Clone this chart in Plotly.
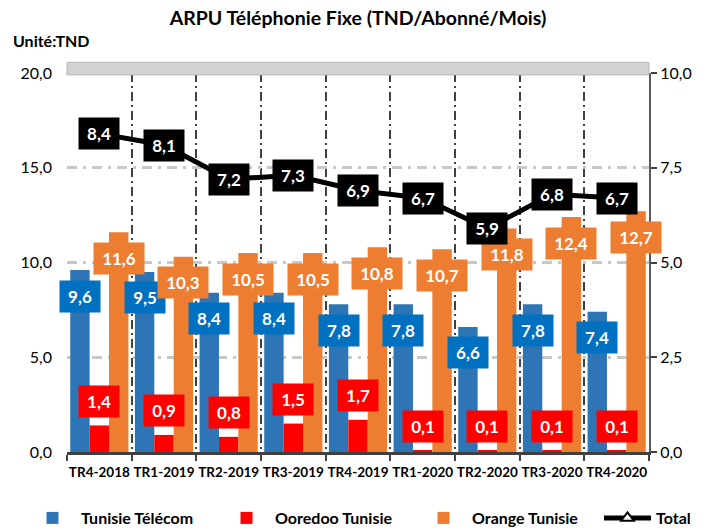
import plotly.graph_objects as go

categories = ["TR4-2018", "TR1-2019", "TR2-2019", "TR3-2019", "TR4-2019",
              "TR1-2020", "TR2-2020", "TR3-2020", "TR4-2020"]
tunisie_telecom = [9.6, 9.5, 8.4, 8.4, 7.8, 7.8, 6.6, 7.8, 7.4]
ooredoo = [1.4, 0.9, 0.8, 1.5, 1.7, 0.1, 0.1, 0.1, 0.1]
orange = [11.6, 10.3, 10.5, 10.5, 10.8, 10.7, 11.8, 12.4, 12.7]
total = [8.4, 8.1, 7.2, 7.3, 6.9, 6.7, 5.9, 6.8, 6.7]

FONT = "Lato"
C_BLUE_BAR = "#2E75B6"
C_BLUE_LBL = "#0070C0"
C_RED = "#FF0000"
C_ORANGE = "#ED7D31"

x = list(range(len(categories)))
BAR_W = 0.3
PLOT_L, PLOT_W, PLOT_H = 67, 582, 379


def fmt(v):
    return f"{v:.1f}".replace(".", ",")


fig = go.Figure()
fig.add_bar(x=x, y=tunisie_telecom, name="<b>Tunisie Télécom</b>", marker_color=C_BLUE_BAR,
            marker_line_width=0, legend="legend")
fig.add_bar(x=x, y=ooredoo, name="<b>Ooredoo Tunisie</b>", marker_color=C_RED,
            marker_line_width=0, legend="legend2")
fig.add_bar(x=x, y=orange, name="<b>Orange Tunisie</b>", marker_color=C_ORANGE,
            marker_line_width=0, legend="legend3")
fig.add_scatter(x=x, y=total, name="<b>Total</b>", yaxis="y2", mode="lines+markers",
                line=dict(color="black", width=5), legend="legend4",
                marker=dict(symbol="triangle-up", size=11, color="white",
                            line=dict(color="black", width=2)))

annotations = []


def label(xv, yv, text, bg, yshift, yref="y"):
    w = 40 if len(text) <= 3 else 50
    annotations.append(dict(
        x=xv, y=yv, xref="x", yref=yref, text=f"<b>{text}</b>", showarrow=False,
        bgcolor=bg, width=w, height=31, borderpad=0, yshift=yshift,
        font=dict(family=FONT, size=17, color="white")))


for i in x:
    label(i - BAR_W, tunisie_telecom[i], fmt(tunisie_telecom[i]), C_BLUE_LBL, -26)
    label(i, ooredoo[i], fmt(ooredoo[i]), C_RED, 24)
    label(i + BAR_W, orange[i], fmt(orange[i]), C_ORANGE, -26)
    label(i, total[i], fmt(total[i]), "black", 0, yref="y2")

annotations.append(dict(
    xref="paper", yref="paper", x=-56 / PLOT_W, y=1 + 33 / PLOT_H, text="<b>Unité:TND</b>",
    showarrow=False, xanchor="left", yanchor="middle",
    font=dict(family=FONT, size=16, color="black")))

boundaries = [i - 0.5 for i in range(len(categories) + 1)]


def leg(left_px):
    return dict(orientation="h", x=(left_px - PLOT_L) / PLOT_W, xanchor="left",
                y=-66 / PLOT_H, yanchor="middle", bgcolor="rgba(0,0,0,0)",
                font=dict(family=FONT, size=16, color="black"), itemwidth=47)


fig.update_layout(
    width=711, height=530,
    margin=dict(l=PLOT_L, r=62, t=73, b=78, autoexpand=False),
    paper_bgcolor="white", plot_bgcolor="white",
    separators=", ",
    barmode="group", bargap=0.1, bargroupgap=0,
    font=dict(family=FONT, color="black"),
    title=dict(text="<b>ARPU Téléphonie Fixe (TND/Abonné/Mois)</b>", x=0.5, xref="paper",
               xanchor="center", y=1 - 18 / 530, yanchor="middle",
               font=dict(family=FONT, size=19.5, color="black")),
    showlegend=True,
    legend=leg(24), legend2=leg(218), legend3=leg(415), legend4=leg(599),
    xaxis=dict(range=[-0.5, len(categories) - 0.5], tickmode="array", tickvals=x,
               ticktext=[f"<b>{c}</b>" for c in categories], ticks="", showgrid=False,
               tickfont=dict(family=FONT, size=13.5, color="black"),
               showline=True, linecolor="#404040", linewidth=3,
               ticklabelstandoff=6,
               minor=dict(tickmode="array", tickvals=boundaries, ticks="outside", ticklen=6,
                          tickwidth=2, tickcolor="#404040", showgrid=True,
                          gridcolor="#404040", gridwidth=1.8, griddash="9px,4px,2px,4px"),
               zeroline=False),
    yaxis=dict(range=[0, 20], dtick=5, tick0=0, tickformat=".1f", showgrid=True,
               gridcolor="#C8C8C8", gridwidth=2.5, griddash="10px,6px,3px,6px",
               showline=False, zeroline=False, ticks="",
               tickfont=dict(family=FONT, size=16, color="black"),
               ticklabelstandoff=14),
    yaxis2=dict(range=[0, 10], dtick=2.5, tick0=0, tickformat=".1f", overlaying="y",
                side="right", showgrid=False, zeroline=False, showline=True,
                linecolor="#595959", linewidth=2, ticks="outside", ticklen=6,
                tickcolor="#404040", tickwidth=2,
                tickfont=dict(family=FONT, size=16, color="black")),
    annotations=annotations,
    shapes=[dict(type="rect", xref="paper", yref="paper", x0=0, x1=1,
                 y0=0.995, y1=1.028, fillcolor="#D3D3D3",
                 line=dict(color="#B5B5B5", width=1), layer="above")],
)

fig.write_html("out.html", config={"displayModeBar": False},
               post_script="document.body.style.margin='0';")
